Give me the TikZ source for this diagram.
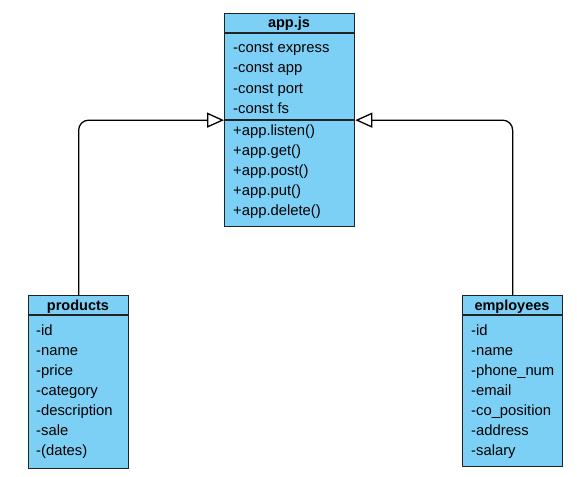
\documentclass[tikz,border=0pt]{standalone}
\usepackage{fontspec}
\setmainfont{Liberation Sans}
\usetikzlibrary{arrows.meta}
\definecolor{classblue}{HTML}{7DD0F5}
\definecolor{boxline}{HTML}{222222}
\tikzset{
  classbox/.style={draw=boxline,fill=classblue,line width=1.3pt,anchor=north west,inner sep=0pt},
  classhead/.style={font=\bfseries\fontsize{14.5}{16}\selectfont,inner sep=0pt,anchor=base},
  member/.style={font=\fontsize{14.8}{17}\selectfont,anchor=base west,inner sep=0pt},
  inherit/.style={line width=1.3pt,rounded corners=10pt,-{Triangle[length=17pt,width=15pt,fill=white]}}
}
\begin{document}
\begin{tikzpicture}[x=1pt,y=-1pt]
    \useasboundingbox (0,0) rectangle (577,476);

    % app.js
    \node[classbox,minimum width=130pt,minimum height=213pt] (app) at (224,13) {};
    \draw[line width=1.3pt,boxline] (224,33)--(354,33);
    \draw[line width=1.3pt,boxline] (224,120)--(354,120);
    \node[classhead] (apptitle) at (289,28) {app.js};
    \foreach \t [count=\i] in {-const express,-const app,-const port,-const fs}
        \node[member] (appvar\i) at (233,33+20*\i) {\t};
    \foreach \t [count=\i] in {+app.listen(),+app.get(),+app.post(),+app.put(),+app.delete()}
        \node[member] (appfn\i) at (233,115+20*\i) {\t};

    % products
    \node[classbox,minimum width=100pt,minimum height=173pt] (products) at (28,295) {};
    \draw[line width=1.3pt,boxline] (28,315)--(128,315);
    \node[classhead] (prodtitle) at (78,310) {products};
    \foreach \t [count=\i] in {-id,-name,-price,-category,-description,-sale,-(dates)}
        \node[member] (prod\i) at (36,315+20*\i) {\t};

    % employees
    \node[classbox,minimum width=100pt,minimum height=171pt] (employees) at (462,295) {};
    \draw[line width=1.3pt,boxline] (462,315)--(562,315);
    \node[classhead] (emptitle) at (512,310) {employees};
    \foreach \t [count=\i] in {-id,-name,-phone\_num,-email,-co\_position,-address,-salary}
        \node[member] (emp\i) at (471,315+20*\i) {\t};

    \draw[inherit] (products.north) |- (app.west);
    \draw[inherit] (employees.north) |- (app.east);

\end{tikzpicture}
\end{document}
